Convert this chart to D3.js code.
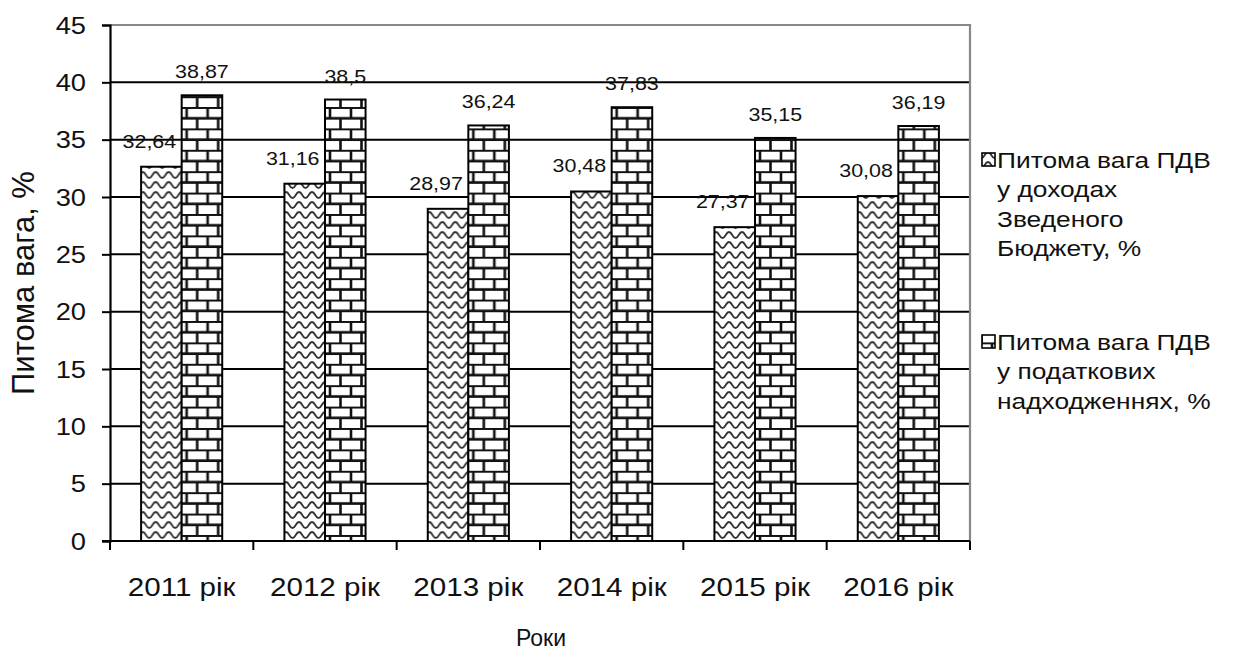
<!DOCTYPE html>
<html>
<head>
<meta charset="utf-8">
<script src="https://cdn.jsdelivr.net/npm/d3@7"></script>
<style>
  html, body { margin: 0; padding: 0; background: #fff; }
  svg { display: block; font-family: Arial, "Liberation Sans", sans-serif; }
</style>
</head>
<body>
<svg id="chart" width="1233" height="651"></svg>
<script>
// Categories and series values
const years = ["2011 рік", "2012 рік", "2013 рік", "2014 рік", "2015 рік", "2016 рік"];
const shareBudget = [32.64, 31.16, 28.97, 30.48, 27.37, 30.08];
const shareTax = [38.87, 38.5, 36.24, 37.83, 35.15, 36.19];
const valueLabelsBudget = ["32,64", "31,16", "28,97", "30,48", "27,37", "30,08"];
const valueLabelsTax = ["38,87", "38,5", "36,24", "37,83", "35,15", "36,19"];
const yTicks = [0, 5, 10, 15, 20, 25, 30, 35, 40, 45];
const legendBudget = ["Питома вага ПДВ", "у доходах", "Зведеного", "Бюджету, %"];
const legendTax = ["Питома вага ПДВ", "у податкових", "надходженнях, %"];

const svg = d3.select("#chart");
const plot = { left: 110, right: 970, top: 25, bottom: 541 };
const STRETCH = 1.16; // horizontal widening of the typeface

// Writes a horizontally widened text anchored at (x, y)
function label(parent, x, y, text, size, anchor, stretch) {
  const sx = stretch === undefined ? STRETCH : stretch;
  const g = parent.append("g").attr("transform", `translate(${x},${y}) scale(${sx},1)`);
  g.append("text")
    .attr("text-anchor", anchor || "middle")
    .attr("font-size", size)
    .attr("fill", "#111")
    .text(text);
  return g;
}

// Patterns
const defs = svg.append("defs");
const wave = defs.append("pattern")
  .attr("id", "wave").attr("patternUnits", "userSpaceOnUse")
  .attr("width", 13).attr("height", 10);
wave.append("rect").attr("width", 13).attr("height", 10).attr("fill", "#fff");
[-5, 5, 15].forEach(cy => {
  wave.append("path")
    .attr("d", `M-3.25,${cy} Q0,${cy - 6} 3.25,${cy} Q6.5,${cy + 6} 9.75,${cy} Q13,${cy - 6} 16.25,${cy}`)
    .attr("fill", "none").attr("stroke", "#333").attr("stroke-width", 1.8);
});

const brick = defs.append("pattern")
  .attr("id", "brick").attr("patternUnits", "userSpaceOnUse")
  .attr("width", 21).attr("height", 21.4);
brick.append("rect").attr("width", 21).attr("height", 21.4).attr("fill", "#fff");
brick.append("path")
  .attr("d", "M0,0.6H21 M0,11.3H21 M5,0.6V11.3 M15.5,11.3V21.4")
  .attr("fill", "none").attr("stroke", "#111").attr("stroke-width", 2.6);

// Scales
const x = d3.scaleBand().domain(years).range([plot.left, plot.right]).paddingInner(0).paddingOuter(0);
const y = d3.scaleLinear().domain([0, 45]).range([plot.bottom, plot.top]);
const barW = x.bandwidth() * 0.283;

// Gridlines
svg.append("g").selectAll("line")
  .data(yTicks.filter(t => t > 0 && t < 45))
  .join("line")
  .attr("x1", plot.left).attr("x2", plot.right)
  .attr("y1", d => y(d)).attr("y2", d => y(d))
  .attr("stroke", "#000").attr("stroke-width", 2);

// Plot border (top and right)
svg.append("path")
  .attr("d", `M${plot.left},${y(45)}H${plot.right}V${plot.bottom}`)
  .attr("fill", "none").attr("stroke", "#888").attr("stroke-width", 2.2);

// Bars
const groups = svg.append("g").selectAll("g")
  .data(years)
  .join("g")
  .attr("transform", d => `translate(${x(d) + x.bandwidth() / 2},0)`);

groups.append("rect")
  .attr("x", -barW).attr("width", barW)
  .attr("y", (d, i) => y(shareBudget[i]))
  .attr("height", (d, i) => y(0) - y(shareBudget[i]))
  .attr("fill", "url(#wave)").attr("stroke", "#000").attr("stroke-width", 2);

groups.append("rect")
  .attr("x", 0).attr("width", barW)
  .attr("y", (d, i) => y(shareTax[i]))
  .attr("height", (d, i) => y(0) - y(shareTax[i]))
  .attr("fill", "url(#brick)").attr("stroke", "#000").attr("stroke-width", 2);

// Value labels
groups.each(function (d, i) {
  const g = d3.select(this);
  label(g, -barW / 2 - 12, y(shareBudget[i]) - 19, valueLabelsBudget[i], 18.5);
  label(g, barW / 2, y(shareTax[i]) - 17, valueLabelsTax[i], 18.5);
});

// Y axis
const yAxis = svg.append("g")
  .attr("transform", `translate(${plot.left},0)`)
  .call(d3.axisLeft(y).tickValues(yTicks).tickSize(8).tickFormat(""));
yAxis.select(".domain").attr("stroke", "#000").attr("stroke-width", 2.2);
yAxis.selectAll(".tick line").attr("stroke", "#000").attr("stroke-width", 2);
yTicks.forEach(t => label(svg, 86, y(t) + 8.5, String(t), 23.5, "end"));

// X axis
const xAxis = svg.append("g").attr("transform", `translate(0,${plot.bottom})`);
xAxis.append("line")
  .attr("x1", plot.left - 8).attr("x2", plot.right)
  .attr("stroke", "#000").attr("stroke-width", 2.2);
xAxis.selectAll("line.tick")
  .data(d3.range(years.length + 1))
  .join("line").attr("class", "tick")
  .attr("x1", i => plot.left + i * x.step()).attr("x2", i => plot.left + i * x.step())
  .attr("y1", 0).attr("y2", 9)
  .attr("stroke", "#000").attr("stroke-width", 2);
years.forEach(d => label(xAxis, x(d) + x.bandwidth() / 2, 55, d, 25.5));

// Axis titles
label(svg, 541, 646, "Роки", 23, "middle", 1.0);

svg.append("text")
  .attr("transform", `translate(34,${(plot.top + plot.bottom) / 2}) rotate(-90)`)
  .attr("text-anchor", "middle").attr("font-size", 31).attr("fill", "#111")
  .text("Питома вага, %");

// Legend
const legend = [
  { fill: "url(#wave)", lines: legendBudget, top: 160 },
  { fill: "url(#brick)", lines: legendTax, top: 342 }
];
legend.forEach(item => {
  const g = svg.append("g");
  g.append("rect")
    .attr("x", 982).attr("y", item.top - 7).attr("width", 13).attr("height", 13)
    .attr("fill", item.fill).attr("stroke", "#000").attr("stroke-width", 1.6);
  item.lines.forEach((line, i) => label(g, 997, item.top + 8 + i * 29.3, line, 22.7, "start"));
});
</script>
</body>
</html>
